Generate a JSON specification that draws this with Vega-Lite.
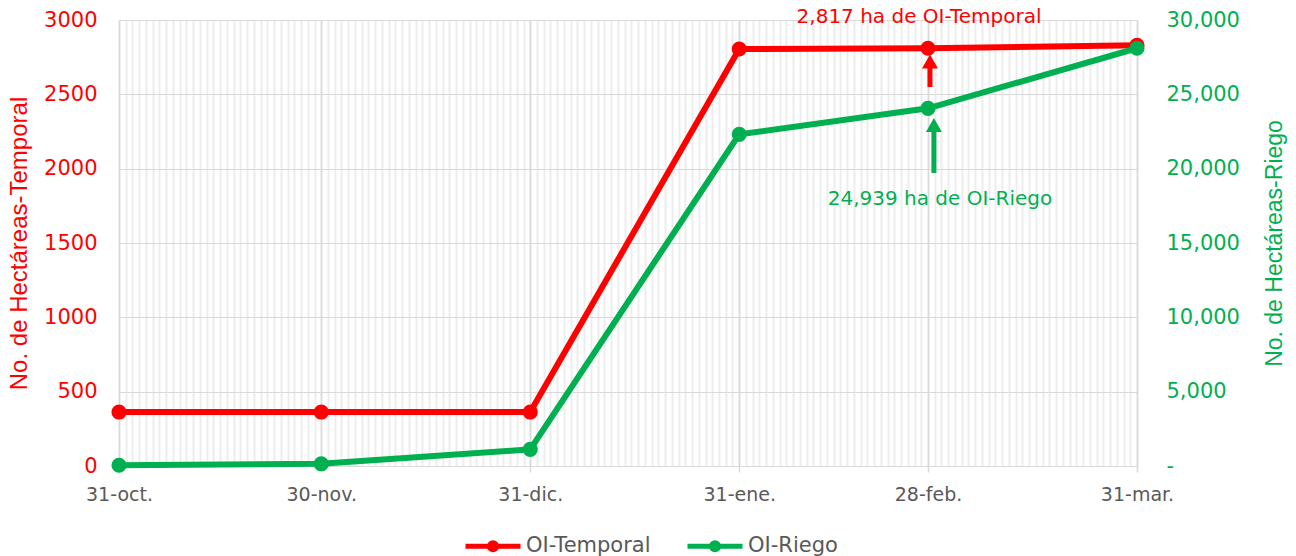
{
  "$schema": "https://vega.github.io/schema/vega-lite/v6.json",
  "width": 1018,
  "height": 446,
  "autosize": {"type": "none"},
  "padding": {"left": 119, "top": 20, "right": 159, "bottom": 90},
  "background": "white",
  "config": {
    "view": {"stroke": null},
    "font": "DejaVu Sans",
    "axis": {"titleFontWeight": "normal", "labelFont": "DejaVu Sans", "titleFont": "Liberation Sans"}
  },
  "datasets": {
    "lines": [
      {"date": "2024-10-31", "series": "OI-Temporal", "value": 363},
      {"date": "2024-11-30", "series": "OI-Temporal", "value": 363},
      {"date": "2024-12-31", "series": "OI-Temporal", "value": 363},
      {"date": "2025-01-31", "series": "OI-Temporal", "value": 2805},
      {"date": "2025-02-28", "series": "OI-Temporal", "value": 2810},
      {"date": "2025-03-31", "series": "OI-Temporal", "value": 2830},
      {"date": "2024-10-31", "series": "OI-Riego", "value": 50},
      {"date": "2024-11-30", "series": "OI-Riego", "value": 150},
      {"date": "2024-12-31", "series": "OI-Riego", "value": 1120},
      {"date": "2025-01-31", "series": "OI-Riego", "value": 22310},
      {"date": "2025-02-28", "series": "OI-Riego", "value": 24060},
      {"date": "2025-03-31", "series": "OI-Riego", "value": 28100}
    ],
    "arrows": [
      {"date": "2025-02-28T07:00:00Z", "series": "OI-Temporal", "y1": 2549, "y2": 2704, "head": 2721},
      {"date": "2025-02-28T21:00:00Z", "series": "OI-Riego", "y1": 19709, "y2": 22735, "head": 22937}
    ],
    "notes": [
      {"date": "2025-02-28", "series": "OI-Temporal", "value": 3020, "label": "2,817 ha de OI-Temporal"},
      {"date": "2025-02-28", "series": "OI-Riego", "value": 17960, "label": "24,939 ha de OI-Riego"}
    ]
  },
  "layer": [
    {
      "data": {"name": "lines"},
      "transform": [{"filter": "datum.series === 'OI-Temporal'"}],
      "mark": {"type": "line", "strokeWidth": 6, "point": {"filled": true, "size": 230}},
      "encoding": {
        "x": {
          "field": "date", "type": "temporal",
          "scale": {"type": "utc", "nice": false, "domain": [{"year": 2024, "month": 10, "date": 31, "utc": true}, {"year": 2025, "month": 3, "date": 31, "utc": true}]},
          "axis": {"orient": "top", "grid": true, "gridColor": "#ededed", "gridWidth": 2, "tickCount": {"interval": "day", "step": 1}, "labels": false, "ticks": false, "domain": false, "title": null}
        },
        "y": {
          "field": "value", "type": "quantitative",
          "scale": {"domain": [0, 3000], "nice": false},
          "axis": {
            "orient": "left", "values": [0, 500, 1000, 1500, 2000, 2500, 3000], "format": "d",
            "grid": true, "gridColor": "#d9d9d9", "gridWidth": 1,
            "labelColor": "#ff0000", "labelFontSize": 21, "labelPadding": 22,
            "ticks": false, "domain": false,
            "title": "No. de Hectáreas-Temporal", "titleColor": "#ff0000", "titleFontSize": 24, "titlePadding": 12
          }
        },
        "color": {
          "field": "series", "type": "nominal",
          "scale": {"domain": ["OI-Temporal", "OI-Riego"], "range": ["#ff0000", "#00b050"]},
          "legend": {
            "title": null, "orient": "none", "legendX": 344, "legendY": 496, "direction": "horizontal",
            "padding": 0,
            "symbolType": "M-1,0H1M-0.13,0A0.13,0.13,0,1,0,0.13,0A0.13,0.13,0,1,0,-0.13,0M-0.055,0A0.055,0.055,0,1,0,0.055,0A0.055,0.055,0,1,0,-0.055,0",
            "symbolSize": 3025, "symbolStrokeWidth": 5,
            "labelFontSize": 21, "labelColor": "#595959", "labelOffset": 3, "columnPadding": 26
          }
        }
      }
    },
    {
      "data": {"name": "arrows"},
      "transform": [{"filter": "datum.series === 'OI-Temporal'"}],
      "mark": {"type": "rule", "strokeWidth": 5, "color": "#ff0000"},
      "encoding": {
        "x": {"field": "date", "type": "temporal", "axis": null},
        "y": {"field": "y1", "type": "quantitative", "axis": null, "scale": {"domain": [0, 3000], "nice": false}},
        "y2": {"field": "y2"}
      }
    },
    {
      "data": {"name": "arrows"},
      "transform": [{"filter": "datum.series === 'OI-Temporal'"}],
      "mark": {"type": "point", "shape": "triangle-up", "filled": true, "size": 256, "color": "#ff0000", "opacity": 1},
      "encoding": {
        "x": {"field": "date", "type": "temporal", "axis": null},
        "y": {"field": "head", "type": "quantitative", "axis": null, "scale": {"domain": [0, 3000], "nice": false}}
      }
    },
    {
      "data": {"name": "notes"},
      "transform": [{"filter": "datum.series === 'OI-Temporal'"}],
      "mark": {"type": "text", "fontSize": 20, "color": "#ff0000", "align": "center", "baseline": "middle", "dx": -9, "font": "DejaVu Sans"},
      "encoding": {
        "x": {"field": "date", "type": "temporal", "axis": null},
        "y": {"field": "value", "type": "quantitative", "axis": null, "scale": {"domain": [0, 3000], "nice": false}},
        "text": {"field": "label"}
      }
    },
    {
      "data": {"name": "lines"},
      "transform": [{"filter": "datum.series === 'OI-Riego'"}],
      "mark": {"type": "line", "strokeWidth": 6, "point": {"filled": true, "size": 230}},
      "encoding": {
        "x": {
          "field": "date", "type": "temporal",
          "axis": {
            "orient": "bottom",
            "values": [
              {"year": 2024, "month": 10, "date": 31, "utc": true},
              {"year": 2024, "month": 11, "date": 30, "utc": true},
              {"year": 2024, "month": 12, "date": 31, "utc": true},
              {"year": 2025, "month": 1, "date": 31, "utc": true},
              {"year": 2025, "month": 2, "date": 28, "utc": true},
              {"year": 2025, "month": 3, "date": 31, "utc": true}
            ],
            "labelExpr": "utcdate(datum.value) + '-' + ['ene.','feb.','mar.','abr.','may.','jun.','jul.','ago.','sep.','oct.','nov.','dic.'][utcmonth(datum.value)]",
            "grid": true, "gridColor": "#d9d9d9", "gridWidth": 1.5,
            "ticks": true, "tickSize": 6, "tickColor": "#d9d9d9", "tickWidth": 1.5,
            "domain": false, "labelFlush": false, "labelOverlap": false, "labelBound": false,
            "labelColor": "#595959", "labelFontSize": 19, "labelPadding": 13,
            "title": null
          }
        },
        "y": {
          "field": "value", "type": "quantitative",
          "scale": {"domain": [0, 30000], "nice": false},
          "axis": {
            "orient": "right", "values": [0, 5000, 10000, 15000, 20000, 25000, 30000],
            "labelExpr": "datum.value === 0 ? '-' : format(datum.value, ',')",
            "grid": false, "ticks": false, "domain": false,
            "labelColor": "#00b050", "labelFontSize": 21, "labelPadding": 29, "labelAlign": "left",
            "title": "No. de Hectáreas-Riego", "titleColor": "#00b050", "titleFontSize": 23,
            "titleAngle": 270, "titleBaseline": "top", "titlePadding": 24
          }
        },
        "color": {"field": "series", "type": "nominal"}
      }
    },
    {
      "data": {"name": "arrows"},
      "transform": [{"filter": "datum.series === 'OI-Riego'"}],
      "mark": {"type": "rule", "strokeWidth": 5, "color": "#00b050"},
      "encoding": {
        "x": {"field": "date", "type": "temporal", "axis": null},
        "y": {"field": "y1", "type": "quantitative", "axis": null, "scale": {"domain": [0, 30000], "nice": false}},
        "y2": {"field": "y2"}
      }
    },
    {
      "data": {"name": "arrows"},
      "transform": [{"filter": "datum.series === 'OI-Riego'"}],
      "mark": {"type": "point", "shape": "triangle-up", "filled": true, "size": 256, "color": "#00b050", "opacity": 1},
      "encoding": {
        "x": {"field": "date", "type": "temporal", "axis": null},
        "y": {"field": "head", "type": "quantitative", "axis": null, "scale": {"domain": [0, 30000], "nice": false}}
      }
    },
    {
      "data": {"name": "notes"},
      "transform": [{"filter": "datum.series === 'OI-Riego'"}],
      "mark": {"type": "text", "fontSize": 20, "color": "#00b050", "align": "center", "baseline": "middle", "dx": 12, "font": "DejaVu Sans"},
      "encoding": {
        "x": {"field": "date", "type": "temporal", "axis": null},
        "y": {"field": "value", "type": "quantitative", "axis": null, "scale": {"domain": [0, 30000], "nice": false}},
        "text": {"field": "label"}
      }
    }
  ],
  "resolve": {"scale": {"y": "independent"}, "axis": {"x": "independent", "y": "independent"}}
}
